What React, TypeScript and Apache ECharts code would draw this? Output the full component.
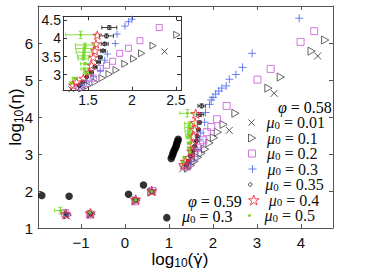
import React, { useEffect, useRef } from 'react';
import * as echarts from 'echarts';

// ---------- data (log10 values) ----------
const xTicksMain = [-1, 0, 1, 2, 3, 4];
const yTicksMain = [1, 2, 3, 4, 5, 6];
const xTicksInset = [1.5, 2, 2.5];
const yTicksInset = [3, 3.5, 4, 4.5];

// phi = 0.59, mu0 = 0.3 (filled black dots)
const phi059 = [[-1.89, 1.88], [-1.27, 1.86], [0.08, 1.91], [0.42, 2.16], [0.95, 1.28], [1.05, 2.88], [1.07, 2.94], [1.09, 3.0], [1.1, 3.05], [1.12, 3.1], [1.14, 3.15], [1.16, 3.2], [1.17, 3.25], [1.18, 3.3], [1.2, 3.35], [1.21, 3.4]];
// phi = 0.58
const mu001 = [[-1.33, 1.33], [-0.78, 1.37], [0.25, 1.74], [0.63, 1.98], [1.31, 2.6], [1.41, 2.66], [2.37, 3.64], [3.39, 4.64], [4.38, 5.65]];
const mu01 = [[-1.3, 1.35], [-0.76, 1.37], [0.26, 1.74], [0.6, 1.97], [1.43, 2.62], [1.5, 2.7], [1.58, 2.8], [1.66, 2.91], [1.74, 3.02], [1.82, 3.13], [1.92, 3.3], [2.02, 3.44], [2.11, 3.59], [2.24, 3.8], [2.51, 4.1], [3.26, 4.78], [3.54, 5.08], [4.24, 5.78], [4.55, 6.08]];
const mu02 = [[-1.36, 1.4], [-0.8, 1.36], [0.23, 1.72], [0.62, 2.0], [1.4, 2.66], [1.48, 2.76], [1.56, 2.9], [1.64, 3.17], [1.71, 3.26], [1.78, 3.37], [1.86, 3.59], [1.96, 3.73], [2.09, 3.94], [2.31, 4.3], [3.01, 5.01], [3.31, 5.3], [3.99, 6.03], [4.3, 6.32]];
const mu03 = [[-1.32, 1.39], [-0.77, 1.4], [0.25, 1.78], [0.6, 2.02], [1.41, 2.71], [1.485, 2.8], [1.56, 2.94], [1.64, 3.12], [1.69, 3.4], [1.72, 3.57], [1.81, 3.86], [1.83, 4.12], [1.92, 4.34], [1.96, 4.46], [2.0, 4.53], [2.06, 4.62], [2.13, 4.7], [2.2, 4.78], [2.3, 4.84], [2.37, 5.02], [2.52, 5.15], [2.67, 5.34], [2.89, 5.72], [3.96, 6.67]];
// [x, y, xErr, yErr]
const mu035 = [[-1.33, 1.37, 0.02, 0.02], [-0.78, 1.38, 0.02, 0.02], [0.24, 1.76, 0.02, 0.02], [0.61, 1.99, 0.02, 0.02], [1.4, 2.7, 0.01, 0.01], [1.44, 2.8, 0.01, 0.01], [1.485, 2.94, 0.01, 0.02], [1.54, 3.07, 0.02, 0.02], [1.58, 3.21, 0.02, 0.02], [1.62, 3.35, 0.02, 0.02], [1.64, 3.48, 0.02, 0.03], [1.67, 3.66, 0.03, 0.03], [1.69, 3.85, 0.04, 0.04], [1.71, 4.07, 0.08, 0.05], [1.742, 4.3, 0.085, 0.05]];
const mu04 = [[-1.35, 1.38], [-0.79, 1.4], [0.24, 1.77], [0.61, 2.0], [1.33, 2.71], [1.37, 2.8], [1.447, 2.9], [1.515, 3.07], [1.54, 3.26], [1.56, 3.48], [1.58, 3.66], [1.591, 3.85], [1.606, 4.09]];
const mu05 = [[-1.47, 1.47, 0.13, 0.09], [-0.8, 1.42, 0.05, 0.04], [0.24, 1.76, 0.02, 0.02], [0.61, 1.99, 0.02, 0.02], [1.315, 2.78, 0.02, 0.02], [1.352, 2.9, 0.03, 0.02], [1.477, 3.05, 0.03, 0.03], [1.46, 3.16, 0.04, 0.03], [1.466, 3.3, 0.05, 0.03], [1.447, 3.44, 0.06, 0.03], [1.45, 3.52, 0.07, 0.03], [1.455, 3.62, 0.09, 0.04], [1.46, 3.72, 0.1, 0.04], [1.466, 3.82, 0.11, 0.05], [1.417, 4.1, 0.17, 0.1]];

// ---------- styles ----------
const CROSS = 'path://M0,0L10,10M10,0L0,10';
const TRI = 'path://M0,0L9,5L0,10Z';
const SQUARE = 'path://M0,0L10,0L10,10L0,10Z';
const PLUS = 'path://M5,0L5,10M0,5L10,5';
const STAR = 'path://M0,-10L2.245,-3.09L9.511,-3.09L3.633,1.18L5.878,8.09L0,3.82L-5.878,8.09L-3.633,1.18L-9.511,-3.09L-2.245,-3.09Z';

type Spec = { name: string; data: number[][]; symbol: string; size: number; inset: number; legend: number; color: string; filled: boolean; err?: boolean };
const specs: Spec[] = [
  { name: 'μ0 = 0.01', data: mu001, symbol: CROSS, size: 7, inset: 6, legend: 6, color: '#3a3a3a', filled: false },
  { name: 'μ0 = 0.1', data: mu01, symbol: TRI, size: 8, inset: 7, legend: 8, color: '#4a4a4a', filled: false },
  { name: 'μ0 = 0.2', data: mu02, symbol: SQUARE, size: 7, inset: 6, legend: 7, color: '#cc5fdc', filled: false },
  { name: 'μ0 = 0.3', data: mu03, symbol: PLUS, size: 8, inset: 7, legend: 8, color: '#4f6bf0', filled: false },
  { name: 'μ0 = 0.35', data: mu035, symbol: 'circle', size: 4, inset: 4, legend: 3.5, color: '#222222', filled: false, err: true },
  { name: 'μ0 = 0.4', data: mu04, symbol: STAR, size: 10, inset: 9, legend: 10, color: '#ee2b3c', filled: false },
  { name: 'μ0 = 0.5', data: mu05, symbol: 'circle', size: 3, inset: 3, legend: 3, color: '#72d81c', filled: true, err: true },
];
const legendRows = [122, 137.5, 153, 168.5, 184, 199.5, 215];

const SERIF = 'Liberation Serif';
const SANS = 'Liberation Sans';

function errSeries(data: number[][], color: string, xi: number, yi: number, z: number) {
  return {
    type: 'custom', xAxisIndex: xi, yAxisIndex: yi, z, clip: true, silent: true,
    data, encode: { x: 0, y: 1 },
    renderItem: (_p: any, api: any) => {
      const x = api.value(0), y = api.value(1), ex = api.value(2), ey = api.value(3);
      const a = api.coord([x - ex, y]), b = api.coord([x + ex, y]);
      const c = api.coord([x, y - ey]), d = api.coord([x, y + ey]);
      const cap = 2;
      const st = { stroke: color, lineWidth: 1, opacity: 0.85 };
      const ln = (x1: number, y1: number, x2: number, y2: number) => ({ type: 'line', shape: { x1, y1, x2, y2 }, style: st });
      return {
        type: 'group', children: [
          ln(a[0], a[1], b[0], b[1]), ln(a[0], a[1] - cap, a[0], a[1] + cap), ln(b[0], b[1] - cap, b[0], b[1] + cap),
          ln(c[0], c[1], d[0], d[1]), ln(c[0] - cap, c[1], c[0] + cap, c[1]), ln(d[0] - cap, d[1], d[0] + cap, d[1]),
        ],
      };
    },
  };
}

function scatter(s: Spec, xi: number, yi: number, size: number, z: number) {
  return {
    type: 'scatter', name: s.name, xAxisIndex: xi, yAxisIndex: yi, z,
    data: s.data.map((p) => [p[0], p[1]]),
    symbol: s.symbol, symbolSize: size, symbolKeepAspect: true, clip: true,
    itemStyle: s.filled
      ? { color: s.color, opacity: 0.9 }
      : { color: 'rgba(0,0,0,0)', borderColor: s.color, borderWidth: 1, opacity: 0.85 },
  };
}

function axisPair(grid: number, min: number, max: number, ticks: number[], dim: 'x' | 'y', color: string, fontSize: number, margin: number, z: number) {
  const base = {
    type: 'value', gridIndex: grid, min, max, z,
    splitLine: { show: false },
    axisLine: { show: true, onZero: false, lineStyle: { color, width: 1 } },
    axisTick: { show: true, inside: true, length: 4, customValues: ticks, lineStyle: { color } },
  };
  const fmt = (v: number) => String(v).replace('-', '−');
  const first = {
    ...base, position: dim === 'x' ? 'bottom' : 'left',
    axisLabel: {
      show: true, customValues: ticks, formatter: fmt, fontFamily: SANS, fontSize, color: '#111', margin,
      showMinLabel: true, showMaxLabel: true, hideOverlap: false,
    },
  };
  const second = { ...base, position: dim === 'x' ? 'top' : 'right', axisLabel: { show: false } };
  return [first, second];
}

const legendRich = {
  i: { fontFamily: SERIF, fontStyle: 'italic', fontSize: 16, lineHeight: 15, color: '#111' },
  s: { fontFamily: SERIF, fontSize: 11, lineHeight: 4, verticalAlign: 'bottom', color: '#111' },
  t: { fontFamily: SERIF, fontSize: 16, lineHeight: 15, color: '#111' },
};
const titleRich = {
  a: { fontFamily: SANS, fontSize: 17, lineHeight: 20, color: '#111' },
  g: { fontFamily: 'DejaVu Sans', fontSize: 16, lineHeight: 20, color: '#111' },
  b: { fontFamily: SANS, fontSize: 12, lineHeight: 10, verticalAlign: 'bottom', color: '#111' },
};

export default function App() {
  const ref = useRef<HTMLDivElement>(null);
  useEffect(() => {
    if (!ref.current) return;
    const chart = echarts.init(ref.current, undefined, { renderer: 'svg' });
    const series: any[] = [];
    series.push({
      type: 'scatter', name: 'φ = 0.59', xAxisIndex: 0, yAxisIndex: 0, z: 2,
      data: phi059, symbol: 'circle', symbolSize: 7.5, itemStyle: { color: '#000' },
    });
    specs.forEach((s) => {
      if (s.err) series.push(errSeries(s.data, s.color, 0, 0, 2));
      series.push(scatter(s, 0, 0, s.size, 3));
      if (s.err) series.push(errSeries(s.data, s.color, 2, 2, 12));
      series.push(scatter(s, 2, 2, s.inset, 13));
    });

    const legends = specs.map((s, i) => ({
      data: [s.name], left: 248, top: legendRows[i] - 7.5, orient: 'vertical', padding: 0,
      itemWidth: 20, itemHeight: s.legend, itemGap: 0, selectedMode: false,
      itemStyle: { borderWidth: 1 },
      formatter: (name: string) => `{i|μ}{s|0}{t| = ${name.split('= ')[1]}}`,
      textStyle: { rich: legendRich },
    }));

    const option: any = {
      animation: false,
      grid: [
        { left: 38, top: 6, width: 295, height: 222, show: false },
        { left: 63, top: 16.3, width: 118, height: 74.4, show: true, backgroundColor: '#fff', borderWidth: 0, z: 10 },
      ],
      xAxis: [
        ...axisPair(0, -1.977, 4.727, xTicksMain, 'x', '#555', 15, 7, 1),
        ...axisPair(1, 1.216, 2.557, xTicksInset, 'x', '#333', 14, 2.5, 11),
      ],
      yAxis: [
        ...axisPair(0, 1, 7, yTicksMain, 'y', '#555', 15, 5, 1),
        ...axisPair(1, 2.56, 4.61, yTicksInset, 'y', '#333', 14, 2, 11),
      ],
      legend: legends,
      series,
      graphic: [
        { type: 'text', left: 278, top: 99, z: 20, style: { text: '{i|φ}{t| = 0.58}', rich: legendRich } },
        { type: 'text', left: 188, top: 193, z: 20, style: { text: '{i|φ}{t| = 0.59}', rich: legendRich } },
        { type: 'text', left: 182, top: 208.5, z: 20, style: { text: '{i|μ}{s|0}{t| = 0.3}', rich: legendRich } },
        {
          type: 'text', x: 180, y: 259, z: 20,
          style: { text: '{a|log}{b|10}{a|(}{g|γ̇}{a|)}', align: 'center', verticalAlign: 'middle', rich: titleRich },
        },
        {
          type: 'text', x: 15, y: 117, rotation: Math.PI / 2, z: 20,
          style: { text: '{a|log}{b|10}{a|(}{g|η}{a|)}', align: 'center', verticalAlign: 'middle', rich: titleRich },
        },
      ],
    };
    chart.setOption(option);
    return () => chart.dispose();
  }, []);
  return <div ref={ref} style={{ position: 'absolute', left: 0, top: 0, width: 374, height: 273, background: '#fff' }} />;
}
